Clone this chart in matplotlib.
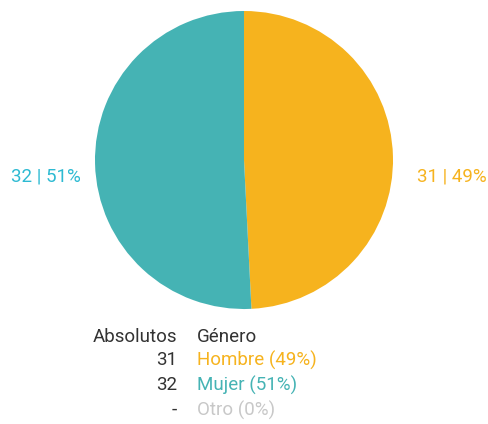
import matplotlib
matplotlib.use("Agg")
import matplotlib.pyplot as plt

categories = ["Hombre", "Mujer", "Otro"]
values = [31, 32, 0]
percents = [49, 51, 0]
colors = ["#F6B31E", "#45B3B4", "#C8C8C8"]
label_colors = ["#F6B31E", "#2DBAD2"]

plt.rcParams['font.family'] = ['Roboto', 'DejaVu Sans']

W, H = 489, 424
fig = plt.figure(figsize=(W/100, H/100), dpi=100)
cx, cy, r = 244, 160, 149
ax = fig.add_axes([(cx-r)/W, (H-cy-r)/H, 2*r/W, 2*r/H])
ax.pie(values[:2], colors=colors[:2], startangle=90, counterclock=False,
       radius=1, wedgeprops=dict(linewidth=0))
ax.set_xlim(-1, 1); ax.set_ylim(-1, 1)
ax.set_aspect('equal')
ax.axis('off')

fs = 13.5
fig.text(452/W, 1-176/H, f"{values[0]} | {percents[0]}%", color=label_colors[0],
         ha='center', va='center', fontsize=fs)
fig.text(46/W, 1-176/H, f"{values[1]} | {percents[1]}%", color=label_colors[1],
         ha='center', va='center', fontsize=fs)

xr, xl = 177/W, 197/W
rows_y = [337, 360, 385, 410]
fig.text(xr, 1-rows_y[0]/H, "Absolutos", ha='right', va='center', color="#333333", fontsize=fs)
fig.text(xl, 1-rows_y[0]/H, "Género", ha='left', va='center', color="#333333", fontsize=fs)
for i, cat in enumerate(categories):
    y = 1 - rows_y[i+1]/H
    v = str(values[i]) if values[i] else "-"
    fig.text(xr, y, v, ha='right', va='center', color="#333333", fontsize=fs)
    fig.text(xl, y, f"{cat} ({percents[i]}%)", ha='left', va='center', color=colors[i], fontsize=fs)

fig.savefig("out.png", dpi=100)
